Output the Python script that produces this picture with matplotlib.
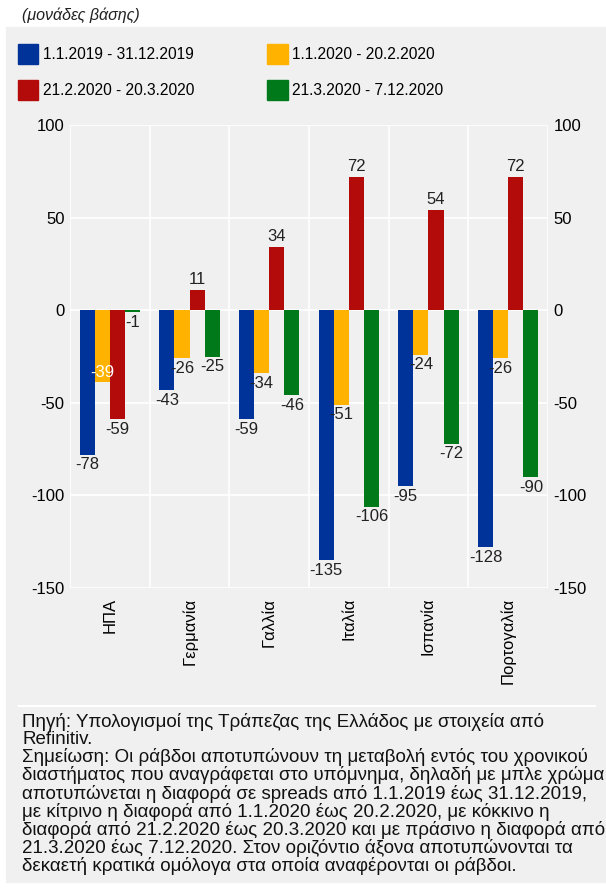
import numpy as np
import matplotlib.pyplot as plt
from matplotlib.patches import Rectangle

plt.rcParams['font.family'] = ['Liberation Sans', 'DejaVu Sans']
plt.rcParams['axes.unicode_minus'] = False

# data (basis points)
countries = ["ΗΠΑ", "Γερμανία", "Γαλλία", "Ιταλία", "Ισπανία", "Πορτογαλία"]
periods = ["1.1.2019 - 31.12.2019", "1.1.2020 - 20.2.2020",
           "21.2.2020 - 20.3.2020", "21.3.2020 - 7.12.2020"]
p2019 = [-78, -43, -59, -135, -95, -128]
p_jan_feb = [-39, -26, -34, -51, -24, -26]
p_feb_mar = [-59, 11, 34, 72, 54, 72]
p_mar_dec = [-1, -25, -46, -106, -72, -90]
series = [p2019, p_jan_feb, p_feb_mar, p_mar_dec]
colors = ["#003399", "#FFB300", "#B30A0A", "#00791A"]

bg = "#f0f0f0"
W, H = 606, 889
fig = plt.figure(figsize=(W / 100, H / 100), dpi=100)
fig.patches.append(Rectangle((6 / W, 1 - 882 / H), 1 - 6 / W, (882 - 27) / H,
                             transform=fig.transFigure, color=bg, zorder=-5))

ax = fig.add_axes([70 / W, 1 - 588 / H, (548 - 70) / W, (588 - 125) / H])
ax.set_facecolor(bg)
x = np.arange(len(countries))
bw = 0.19
for i, (vals, c) in enumerate(zip(series, colors)):
    pos = x + (i - 1.5) * bw
    ax.bar(pos, vals, width=bw, color=c, zorder=3)
    for j, (xp, v) in enumerate(zip(pos, vals)):
        if i == 1 and j == 0:
            # this one sits inside the bars, in white
            ax.text(xp, v + 5.5, str(v), ha="center", va="center", fontsize=12,
                    color="white", zorder=5)
        elif v >= 0:
            ax.text(xp, v + 1.5, str(v), ha="center", va="bottom", fontsize=12,
                    color="#222222", zorder=5)
        else:
            ax.text(xp, v - 1.5, str(v), ha="center", va="top", fontsize=12,
                    color="#222222", zorder=5)

ax.set_xlim(-0.5, len(countries) - 0.5)
ax.set_ylim(-150, 100)
ax.set_yticks([100, 50, 0, -50, -100, -150])
ax.set_xticks(x)
ax.set_xticklabels(countries, rotation=90, fontsize=12)
ax.set_xticks(np.arange(len(countries) + 1) - 0.5, minor=True)
ax.tick_params(axis="x", which="both", length=0, pad=7)
ax.tick_params(axis="y", length=0, labelsize=12, pad=4)
ax.grid(axis="y", color="white", lw=1.2, zorder=1)
ax.grid(axis="x", which="minor", color="white", lw=1.2, zorder=1)
for s in ax.spines.values():
    s.set_visible(False)
ax2 = ax.twinx()
ax2.set_ylim(ax.get_ylim())
ax2.set_yticks([100, 50, 0, -50, -100, -150])
ax2.tick_params(axis="y", length=0, labelsize=12, pad=4)
for s in ax2.spines.values():
    s.set_visible(False)

# legend, filled row by row
order = [0, 2, 1, 3]
handles = [Rectangle((0, 0), 1, 1, color=colors[k]) for k in order]
fig.legend(handles, [periods[k] for k in order], loc="upper left",
           bbox_to_anchor=(4 / W, 1 - 30 / H),
           ncol=2, frameon=False, fontsize=11.2, handlelength=1.3, handleheight=1.6,
           handletextpad=0.3, columnspacing=4.7, labelspacing=1.05)

fig.text(22 / W, 1 - 15 / H, "(μονάδες βάσης)", fontsize=11.5, style="italic",
         va="center", ha="left", color="#222222")

fig.add_artist(plt.Line2D([19 / W, 595 / W], [1 - 706 / H, 1 - 706 / H],
                          color="white", lw=1.5, transform=fig.transFigure))

note = ("Πηγή: Υπολογισμοί της Τράπεζας της Ελλάδος με στοιχεία από\n"
        "Refinitiv.\n"
        "Σημείωση: Οι ράβδοι αποτυπώνουν τη μεταβολή εντός του χρονικού\n"
        "διαστήματος που αναγράφεται στο υπόμνημα, δηλαδή με μπλε χρώμα\n"
        "αποτυπώνεται η διαφορά σε spreads από 1.1.2019 έως 31.12.2019,\n"
        "με κίτρινο η διαφορά από 1.1.2020 έως 20.2.2020, με κόκκινο η\n"
        "διαφορά από 21.2.2020 έως 20.3.2020 και με πράσινο η διαφορά από\n"
        "21.3.2020 έως 7.12.2020. Στον οριζόντιο άξονα αποτυπώνονται τα\n"
        "δεκαετή κρατικά ομόλογα στα οποία αναφέρονται οι ράβδοι.")
fig.text(22 / W, 1 - 713 / H, note, fontsize=13.5, va="top", ha="left",
         linespacing=1.01, color="#111111")

fig.savefig("out.png", dpi=100)
